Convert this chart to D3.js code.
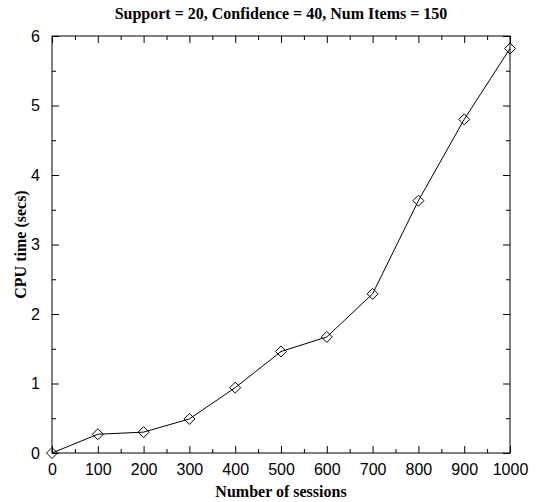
<!DOCTYPE html>
<html>
<head>
<meta charset="utf-8">
<script src="https://cdn.jsdelivr.net/npm/d3@7"></script>
<style>
  body { margin: 0; background: #fff; }
</style>
</head>
<body>
<div class="chart"></div>
<script>
const sessions = [0, 100, 200, 300, 400, 500, 600, 700, 800, 900, 1000];
const cpuTime = [0, 0.27, 0.30, 0.49, 0.94, 1.46, 1.67, 2.29, 3.63, 4.80, 5.82];
const xTicks = [0, 100, 200, 300, 400, 500, 600, 700, 800, 900, 1000];
const yTicks = [0, 1, 2, 3, 4, 5, 6];
const title = "Support = 20, Confidence = 40, Num Items = 150";

const initWidth = 536;
const initHeight = 502;
const margin = { top: 36, right: 26, bottom: 49, left: 52 },
  width = initWidth - margin.left - margin.right,
  height = initHeight - margin.top - margin.bottom;

const xScale = d3.scaleLinear().domain([0, 1000]).range([0, width]);
const yScale = d3.scaleLinear().domain([0, 6]).range([height, 0]);

const svg = d3
  .select(".chart")
  .append("svg")
  .attr("width", initWidth)
  .attr("height", initHeight);

svg.append("rect")
  .attr("width", "100%")
  .attr("height", "100%")
  .attr("fill", "#fff");

const g = svg.append("g")
  .attr("transform", "translate(" + margin.left + "," + margin.top + ")");

// minor ticks every 50 / 0.5
const xMinor = d3.range(50, 1000, 100);
const yMinor = d3.range(0.5, 6, 1);

function styleAxis(sel, labels) {
  sel.select(".domain").remove();
  sel.selectAll("line").attr("stroke", "#000").attr("stroke-width", 1);
  sel.selectAll("text")
    .attr("font-family", "Liberation Sans, Arial, sans-serif")
    .attr("font-size", 16)
    .attr("fill", "#000");
  if (!labels) sel.selectAll("text").remove();
}

// bottom axis
g.append("g")
  .attr("transform", "translate(0," + height + ")")
  .call(d3.axisBottom(xScale).tickValues(xTicks).tickSizeInner(-7).tickPadding(11).tickFormat(d3.format("d")))
  .call(s => styleAxis(s, true));
g.append("g")
  .attr("transform", "translate(0," + height + ")")
  .call(d3.axisBottom(xScale).tickValues(xMinor).tickSize(-4))
  .call(s => styleAxis(s, false));

// top axis
g.append("g")
  .call(d3.axisTop(xScale).tickValues(xTicks).tickSize(-7))
  .call(s => styleAxis(s, false));
g.append("g")
  .call(d3.axisTop(xScale).tickValues(xMinor).tickSize(-4))
  .call(s => styleAxis(s, false));

// left axis
g.append("g")
  .call(d3.axisLeft(yScale).tickValues(yTicks).tickSizeInner(-7).tickPadding(12).tickFormat(d3.format("d")))
  .call(s => styleAxis(s, true));
g.append("g")
  .call(d3.axisLeft(yScale).tickValues(yMinor).tickSize(-4))
  .call(s => styleAxis(s, false));

// right axis
g.append("g")
  .attr("transform", "translate(" + width + ",0)")
  .call(d3.axisRight(yScale).tickValues(yTicks).tickSize(-7))
  .call(s => styleAxis(s, false));
g.append("g")
  .attr("transform", "translate(" + width + ",0)")
  .call(d3.axisRight(yScale).tickValues(yMinor).tickSize(-4))
  .call(s => styleAxis(s, false));

// frame
g.append("rect")
  .attr("x", 0)
  .attr("y", 0)
  .attr("width", width)
  .attr("height", height)
  .attr("fill", "none")
  .attr("stroke", "#000")
  .attr("stroke-width", 1);

const data = sessions.map((s, i) => [s, cpuTime[i]]);

const line = d3.line()
  .x(d => xScale(d[0]))
  .y(d => yScale(d[1]));

g.append("path")
  .datum(data)
  .attr("d", line)
  .attr("fill", "none")
  .attr("stroke", "#000")
  .attr("stroke-width", 1);

// diamond markers
const r = 5.5;
g.selectAll(".pt")
  .data(data)
  .enter()
  .append("path")
  .attr("class", "pt")
  .attr("transform", d => "translate(" + xScale(d[0]) + "," + yScale(d[1]) + ")")
  .attr("d", "M0," + -r + "L" + r + ",0L0," + r + "L" + -r + ",0Z")
  .attr("fill", "none")
  .attr("stroke", "#000")
  .attr("stroke-width", 1);

// title
svg.append("text")
  .attr("x", margin.left + width / 2)
  .attr("y", 19)
  .attr("text-anchor", "middle")
  .attr("font-family", "Liberation Serif, Times New Roman, serif")
  .attr("font-weight", "bold")
  .attr("font-size", 16)
  .text(title);

// x label
svg.append("text")
  .attr("x", margin.left + width / 2)
  .attr("y", 497)
  .attr("text-anchor", "middle")
  .attr("font-family", "Liberation Serif, Times New Roman, serif")
  .attr("font-weight", "bold")
  .attr("font-size", 16)
  .text("Number of sessions");

// y label
svg.append("text")
  .attr("transform", "translate(26," + (margin.top + height / 2) + ") rotate(-90)")
  .attr("text-anchor", "middle")
  .attr("font-family", "Liberation Serif, Times New Roman, serif")
  .attr("font-weight", "bold")
  .attr("font-size", 16)
  .text("CPU time (secs)");
</script>
</body>
</html>
